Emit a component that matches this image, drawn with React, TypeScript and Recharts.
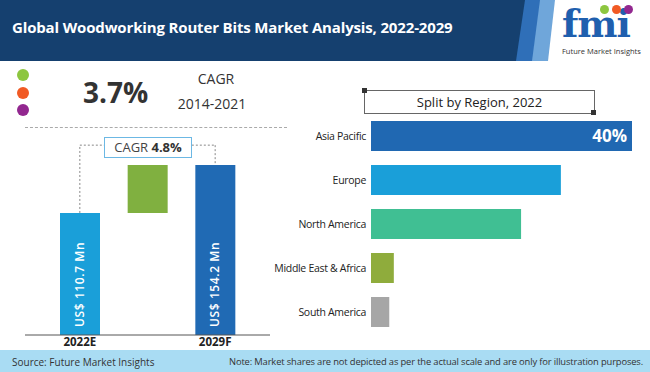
import { BarChart, Bar, XAxis, YAxis, Cell, LabelList, ReferenceLine } from 'recharts';

const years = ['2022E', '', '2029F'];
const marketValues = [110.7, 154.2];
const cagrHistoric = '3.7%';
const cagrForecast = '4.8%';

const regions = ['Asia Pacific', 'Europe', 'North America', 'Middle East & Africa', 'South America'];
const regionShares = [40, 29.1, 23, 3.5, 2.8];
const regionColors = ['#2068b2', '#1a9fd9', '#40bf93', '#8fac3c', '#a6a6a6'];

const start = marketValues[0];
const end = marketValues[1];
const growthData = [
  { name: years[0], base: 0, value: start, color: '#1a9fd9' },
  { name: years[1], base: start, value: end - start, color: '#80b040' },
  { name: years[2], base: 0, value: end, color: '#206ab4' },
];
const connectorLevel = end + 18;

const regionData = regions.map((name, i) => ({ name, share: regionShares[i], color: regionColors[i] }));

const font = '"Open Sans", "Noto Sans", sans-serif';

function InsideValue(props: any) {
  const { x, y, width, height, index } = props;
  if (index === 1) return null;
  const cx = x + width / 2 + 4;
  const by = y + height - 8;
  return (
    <text
      x={cx}
      y={by}
      transform={`rotate(-90 ${cx} ${by})`}
      fill="#fff"
      fontSize={12}
      fontWeight={600}
      letterSpacing={0.6}
      fontFamily={font}
      textAnchor="start"
    >
      {`US$ ${marketValues[index === 0 ? 0 : 1]} Mn`}
    </text>
  );
}

function YearTick({ x, y, payload }: any) {
  return (
    <text x={x} y={y + 3} textAnchor="middle" fill="#222" fontSize={11.5} fontWeight={700} fontFamily={font}>
      {payload.value}
    </text>
  );
}

function RegionTick({ x, y, payload }: any) {
  return (
    <text x={x + 3} y={y + 4} textAnchor="end" fill="#222" fontSize={10.5} letterSpacing={-0.3} fontFamily={font}>
      {payload.value}
    </text>
  );
}

function ShareLabel(props: any) {
  const { x, y, width, height, index } = props;
  if (index !== 0) return null;
  return (
    <text
      x={x + width - 5}
      y={y + height / 2 + 6}
      textAnchor="end"
      fill="#fff"
      fontSize={17}
      fontWeight={700}
      fontFamily={font}
    >
      {`${regionShares[0]}%`}
    </text>
  );
}

export default function App() {
  return (
    <div
      style={{
        position: 'absolute',
        left: 0,
        top: 0,
        width: 650,
        height: 372,
        background: '#fff',
        overflow: 'hidden',
        fontFamily: font,
      }}
    >
      {/* header */}
      <div style={{ position: 'absolute', left: 0, top: 0, width: 650, height: 61, background: '#15406f' }} />
      <div
        style={{
          position: 'absolute',
          left: 0,
          top: 0,
          width: 650,
          height: 61,
          background: '#2f6fb8',
          clipPath: 'polygon(525px 0, 650px 0, 650px 61px, 516px 61px)',
        }}
      />
      <div
        style={{
          position: 'absolute',
          left: 0,
          top: 0,
          width: 650,
          height: 61,
          background: '#6fa6da',
          clipPath: 'polygon(540px 0, 650px 0, 650px 61px, 532px 61px)',
        }}
      />
      <div
        style={{
          position: 'absolute',
          left: 0,
          top: 0,
          width: 650,
          height: 61,
          background: '#fff',
          clipPath: 'polygon(555px 0, 650px 0, 650px 61px, 548px 61px)',
        }}
      />
      <div
        style={{
          position: 'absolute',
          left: 12,
          top: 17,
          color: '#fff',
          fontSize: 15,
          fontWeight: 700,
          whiteSpace: 'nowrap',
          letterSpacing: -0.15,
        }}
      >
        Global Woodworking Router Bits Market Analysis, 2022-2029
      </div>
      {/* logo */}
      <div
        style={{
          position: 'absolute',
          left: 562,
          top: 2,
          fontSize: 38,
          fontWeight: 800,
          color: '#1f5fae',
          fontFamily: '"DejaVu Serif", serif',
          lineHeight: '44px',
          letterSpacing: -1,
        }}
      >
        fmi
      </div>
      {['#8dc63f', '#f15a24', '#92278f'].map((c, i) => (
        <div
          key={c}
          style={{
            position: 'absolute',
            left: 600 + i * 12,
            top: 5,
            width: 9,
            height: 9,
            borderRadius: '50%',
            background: c,
          }}
        />
      ))}
      <div style={{ position: 'absolute', left: 562, top: 46, fontSize: 7.5, color: '#333', whiteSpace: 'nowrap' }}>
        Future Market Insights
      </div>

      {/* CAGR historic */}
      {['#8dc63f', '#f15a24', '#92278f'].map((c, i) => (
        <div
          key={c}
          style={{
            position: 'absolute',
            left: 17,
            top: 69 + i * 17.5,
            width: 12,
            height: 12,
            borderRadius: '50%',
            background: c,
          }}
        />
      ))}
      <div style={{ position: 'absolute', left: 83, top: 73, fontSize: 28, fontWeight: 700, color: '#333', lineHeight: '38px' }}>
        {cagrHistoric}
      </div>
      <div style={{ position: 'absolute', left: 176, top: 69, width: 80, textAlign: 'center', fontSize: 14, color: '#333' }}>
        CAGR
      </div>
      <div style={{ position: 'absolute', left: 172, top: 94, width: 80, textAlign: 'center', fontSize: 14, color: '#333' }}>
        2014-2021
      </div>
      <div style={{ position: 'absolute', left: 25, top: 127, width: 262, borderTop: '1px dashed #aaa' }} />

      {/* left growth chart */}
      <div style={{ position: 'absolute', left: 0, top: 130 }}>
        <BarChart width={300} height={220} data={growthData} margin={{ top: 35, right: 30, bottom: 0, left: 25 }}>
          <XAxis
            dataKey="name"
            height={15}
            tickLine={false}
            axisLine={{ stroke: '#555', strokeWidth: 1 }}
            padding={{ left: 21, right: 21 }}
            tick={YearTick}
            interval={0}
          />
          <YAxis hide domain={[0, end]} />
          <ReferenceLine
            segment={[{ x: years[0], y: start }, { x: years[0], y: connectorLevel }]}
            stroke="#888"
            strokeDasharray="2 2"
            ifOverflow="visible"
          />
          <ReferenceLine
            segment={[{ x: years[0], y: connectorLevel }, { x: years[2], y: connectorLevel }]}
            stroke="#888"
            strokeDasharray="2 2"
            ifOverflow="visible"
          />
          <ReferenceLine
            segment={[{ x: years[2], y: connectorLevel }, { x: years[2], y: end }]}
            stroke="#888"
            strokeDasharray="2 2"
            ifOverflow="visible"
          />
          <Bar dataKey="base" stackId="a" fill="transparent" barSize={40} isAnimationActive={false} />
          <Bar dataKey="value" stackId="a" barSize={40} isAnimationActive={false}>
            {growthData.map((d) => (
              <Cell key={d.name + d.color} fill={d.color} />
            ))}
            <LabelList dataKey="value" content={InsideValue} />
          </Bar>
        </BarChart>
      </div>
      <div
        style={{
          position: 'absolute',
          left: 104,
          top: 137,
          width: 86,
          height: 19,
          border: '1.5px solid #6cb8e4',
          background: '#fff',
          textAlign: 'center',
          fontSize: 13,
          lineHeight: '19px',
          color: '#444',
        }}
      >
        CAGR <b style={{ color: '#333' }}>{cagrForecast}</b>
      </div>

      {/* right region split */}
      <div
        style={{
          position: 'absolute',
          left: 364,
          top: 90,
          width: 229,
          height: 22,
          border: '1px solid #666',
          textAlign: 'center',
          fontSize: 13,
          lineHeight: '22px',
          color: '#222',
        }}
      >
        Split by Region, 2022
      </div>
      <div style={{ position: 'absolute', left: 362, top: 88, width: 5, height: 5, background: '#333' }} />
      <div style={{ position: 'absolute', left: 591, top: 110, width: 5, height: 5, background: '#333' }} />
      <div style={{ position: 'absolute', left: 262, top: 110 }}>
        <BarChart
          width={380}
          height={230}
          data={regionData}
          layout="vertical"
          margin={{ top: 4, right: 10, bottom: 6, left: 0 }}
        >
          <XAxis type="number" hide domain={[0, regionShares[0]]} />
          <YAxis
            type="category"
            dataKey="name"
            width={109}
            tickLine={false}
            axisLine={false}
            tick={RegionTick}
            interval={0}
          />
          <Bar dataKey="share" barSize={30} isAnimationActive={false}>
            {regionData.map((d) => (
              <Cell key={d.name} fill={d.color} />
            ))}
            <LabelList dataKey="share" content={ShareLabel} />
          </Bar>
        </BarChart>
      </div>

      {/* footer */}
      <div style={{ position: 'absolute', left: 0, top: 350, width: 650, height: 22, background: '#a9dcf3' }} />
      <div style={{ position: 'absolute', left: 12, top: 355, fontSize: 10, color: '#333', whiteSpace: 'nowrap' }}>
        Source: Future Market Insights
      </div>
      <div
        style={{
          position: 'absolute',
          right: 7,
          top: 355,
          fontSize: 9.4,
          color: '#333',
          whiteSpace: 'nowrap',
          letterSpacing: -0.15,
        }}
      >
        Note: Market shares are not depicted as per the actual scale and are only for illustration purposes.
      </div>
    </div>
  );
}
